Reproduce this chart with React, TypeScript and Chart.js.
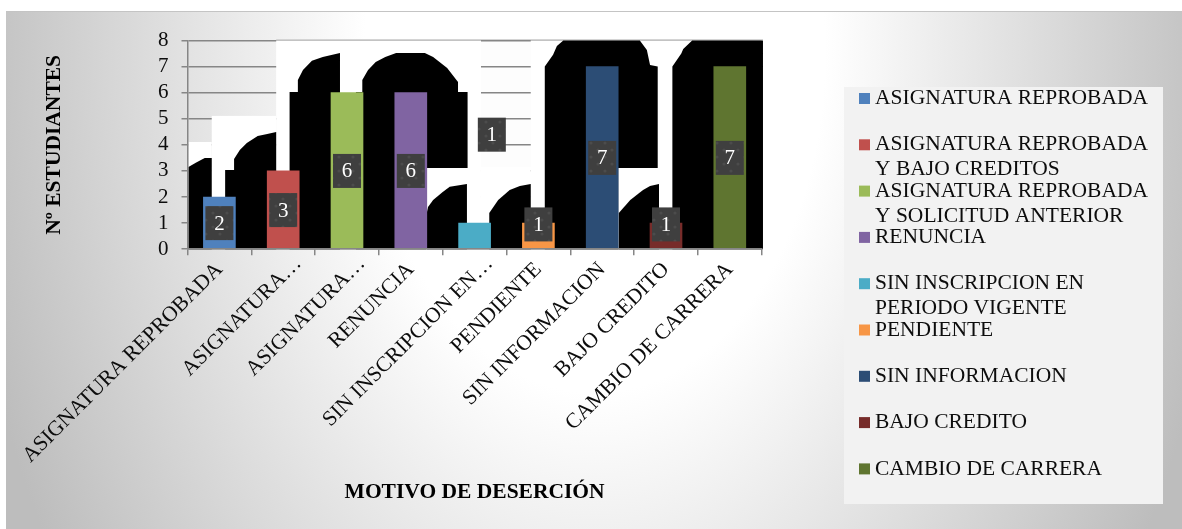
import React, { useEffect, useRef } from "react";
import { Chart, registerables } from "chart.js";

Chart.register(...registerables);

const SERIF = '"Liberation Serif", "Times New Roman", serif';

const axisCategories = [
  "ASIGNATURA REPROBADA",
  "ASIGNATURA…",
  "ASIGNATURA…",
  "RENUNCIA",
  "SIN INSCRIPCION EN…",
  "PENDIENTE",
  "SIN INFORMACION",
  "BAJO CREDITO",
  "CAMBIO DE CARRERA",
];
const legendLabels: string[][] = [
  ["ASIGNATURA REPROBADA"],
  ["ASIGNATURA REPROBADA", "Y BAJO CREDITOS"],
  ["ASIGNATURA REPROBADA", "Y SOLICITUD ANTERIOR"],
  ["RENUNCIA"],
  ["SIN INSCRIPCION EN", "PERIODO VIGENTE"],
  ["PENDIENTE"],
  ["SIN INFORMACION"],
  ["BAJO CREDITO"],
  ["CAMBIO DE CARRERA"],
];
const students = [2, 3, 6, 6, 1, 1, 7, 1, 7];
const barColors = ["#4F81BD", "#C0504D", "#9BBB59", "#8064A2", "#4BACC6", "#F79646", "#2C4D75", "#772C2A", "#5F7530"];
// data-label anchors, in axis units [category, value]
const labelAnchors: [number, number][] = [
  [0, 1], [1, 1.5], [2, 3], [3, 3], [4.27, 4.39], [5, 0.95], [6, 3.5], [7, 0.95], [8, 3.5],
];
// truncated axis labels sit a little further right in the source
const truncatedLabelIndexes = [1, 2, 4];

// artefact regions of the source picture, in axis units [category, value]
const blackShapes: [number, number][][] = [
  [[-0.485, 0], [-0.485, 3.15], [-0.37, 3.31], [-0.23, 3.5], [-0.12, 3.5], [-0.12, 0]],
  [[0.09, 0], [0.09, 3.04], [0.23, 3.04], [0.23, 3.46], [0.32, 3.8], [0.43, 4.07], [0.6, 4.34], [0.75, 4.42], [0.89, 4.49], [0.89, 0]],
  [[1.1, 0], [1.1, 6.03], [1.23, 6.03], [1.23, 6.49], [1.31, 6.87], [1.45, 7.22], [1.62, 7.37], [1.89, 7.52], [1.89, 0]],
  [[2.14, 0], [2.14, 6.03], [2.24, 6.03], [2.24, 6.49], [2.33, 6.87], [2.45, 7.18], [2.6, 7.37], [2.77, 7.52], [3.22, 7.52], [3.35, 7.37], [3.57, 6.95], [3.74, 6.41], [3.74, 6.03], [3.89, 6.03], [3.89, 3.11], [3.24, 3.11], [3.24, 0]],
  [[3.25, 0], [3.25, 1.39], [3.27, 1.62], [3.35, 1.89], [3.5, 2.19], [3.61, 2.39], [3.88, 2.5], [3.88, 0]],
  [[4.23, 0], [4.23, 1.39], [4.37, 1.89], [4.55, 2.27], [4.71, 2.42], [4.88, 2.5], [4.88, 0]],
  [[5.1, 0], [5.1, 7], [5.23, 7.45], [5.29, 7.79], [5.39, 8], [6.59, 8], [6.7, 7.64], [6.75, 7.06], [6.87, 7], [6.87, 3.11], [6.25, 3.11], [6.25, 0]],
  [[6.26, 0], [6.26, 1.39], [6.44, 1.89], [6.64, 2.27], [6.75, 2.42], [6.89, 2.5], [6.89, 0]],
  [[7.1, 0], [7.1, 7], [7.24, 7.5], [7.27, 7.67], [7.41, 8], [8.52, 8], [8.52, 0]],
];
// [category from, category to, value from, value to]
const whitePatches: [number, number, number, number][] = [
  [0.89, 4.1, 0, 8],
  [4.1, 4.88, 0, 3.15],
  [4.88, 8.52, 0, 8],
  [-0.12, 0.89, 0, 5.11],
  [-0.485, -0.12, 0, 4.11],
];
const paleBand: [number, number, number, number] = [4.1, 4.88, 3.15, 8];

function makeDotPattern(ctx: CanvasRenderingContext2D) {
  const tile = document.createElement("canvas");
  tile.width = 14;
  tile.height = 14;
  const t = tile.getContext("2d")!;
  t.fillStyle = "#3f3f3f";
  t.fillRect(0, 0, 14, 14);
  t.fillStyle = "#4c4c4c";
  for (const [x, y] of [[3, 3], [10, 10]]) {
    t.beginPath();
    t.arc(x, y, 1.6, 0, Math.PI * 2);
    t.fill();
  }
  return ctx.createPattern(tile, "repeat")!;
}

const backdropPlugin = {
  id: "backdrop",
  afterLayout(chart: any) {
    const xs = chart.scales.x;
    const items = xs.getLabelItems(chart.chartArea);
    for (const i of truncatedLabelIndexes) {
      const t = items[i].options.translation;
      items[i].options.translation = [t[0] + 15, t[1] - 6];
    }
  },
  beforeDraw(chart: any) {
    const { ctx, width, height } = chart;
    ctx.save();
    ctx.fillStyle = "#ffffff";
    ctx.fillRect(0, 0, width, height);
    ctx.save();
    ctx.beginPath();
    ctx.rect(6, 11, width - 6, height - 11);
    ctx.clip();
    ctx.translate(595, 50);
    ctx.scale(1, 1.49);
    const g = ctx.createRadialGradient(0, 0, 230, 0, 0, 640);
    g.addColorStop(0, "#ffffff");
    g.addColorStop(1, "#bdbdbd");
    ctx.fillStyle = g;
    ctx.fillRect(-800, -200, 1700, 700);
    ctx.restore();
    ctx.strokeStyle = "#c4c4c4";
    ctx.lineWidth = 1;
    ctx.beginPath();
    ctx.moveTo(6, 11.5);
    ctx.lineTo(width, 11.5);
    ctx.stroke();
    const xs = chart.scales.x;
    const ys = chart.scales.y;
    if (xs && ys) {
      const [a, b, c, d] = paleBand;
      ctx.fillStyle = "#fdfdfd";
      ctx.fillRect(xs.getPixelForValue(a), ys.getPixelForValue(d), xs.getPixelForValue(b) - xs.getPixelForValue(a), ys.getPixelForValue(c) - ys.getPixelForValue(d));
    }
    // legend panel
    ctx.fillStyle = "#f2f2f2";
    ctx.fillRect(844, 87, 319, 417);
    ctx.restore();
  },
  beforeDatasetsDraw(chart: any) {
    const { ctx } = chart;
    const xs = chart.scales.x;
    const ys = chart.scales.y;
    ctx.save();
    ctx.fillStyle = "#ffffff";
    for (const [a, b, c, d] of whitePatches) {
      const x0 = xs.getPixelForValue(a);
      const x1 = xs.getPixelForValue(b);
      const y0 = ys.getPixelForValue(d);
      const y1 = ys.getPixelForValue(c);
      ctx.fillRect(x0, y0, x1 - x0, y1 - y0);
    }
    ctx.strokeStyle = "#d4d4d4";
    ctx.lineWidth = 1;
    ctx.beginPath();
    ctx.moveTo(xs.getPixelForValue(0.89), ys.getPixelForValue(8) - 1);
    ctx.lineTo(xs.getPixelForValue(8.52), ys.getPixelForValue(8) - 1);
    ctx.stroke();
    ctx.fillStyle = "#000000";
    for (const shape of blackShapes) {
      ctx.beginPath();
      shape.forEach(([cx, v], i) => {
        const px = xs.getPixelForValue(cx);
        const py = ys.getPixelForValue(v);
        if (i) ctx.lineTo(px, py);
        else ctx.moveTo(px, py);
      });
      ctx.closePath();
      ctx.fill();
    }
    ctx.restore();
  },
  afterDatasetsDraw(chart: any) {
    const { ctx } = chart;
    const xs = chart.scales.x;
    const ys = chart.scales.y;
    ctx.save();
    const pattern = makeDotPattern(ctx);
    ctx.textAlign = "center";
    ctx.textBaseline = "middle";
    ctx.font = `21px ${SERIF}`;
    students.forEach((v, i) => {
      const [cx, val] = labelAnchors[i];
      const px = xs.getPixelForValue(cx);
      const py = ys.getPixelForValue(val);
      ctx.fillStyle = pattern;
      ctx.fillRect(px - 14, py - 17, 28, 34);
      ctx.fillStyle = "#ffffff";
      ctx.fillText(String(v), px, py + 1);
    });
    // legend
    ctx.textAlign = "left";
    ctx.font = `21.5px ${SERIF}`;
    legendLabels.forEach((lines, i) => {
      const cy = 98.5 + i * 46.3;
      ctx.fillStyle = barColors[i];
      ctx.fillRect(859, cy - 5.5, 11, 11);
      ctx.fillStyle = "#0d0d0d";
      lines.forEach((line, j) => ctx.fillText(line, 875, cy + j * 25));
    });
    ctx.restore();
  },
};

export default function App() {
  const ref = useRef<HTMLCanvasElement>(null);
  useEffect(() => {
    document.body.style.margin = "0";
    const chart = new Chart(ref.current!, {
      type: "bar",
      data: {
        labels: axisCategories,
        datasets: [{ label: "N° ESTUDIANTES", data: students, backgroundColor: barColors, barThickness: 32 }],
      },
      plugins: [backdropPlugin],
      options: {
        animation: false,
        responsive: false,
        layout: { padding: { left: 38, top: 40.5, right: 420.3, bottom: 20 } },
        plugins: { legend: { display: false }, tooltip: { enabled: false } },
        scales: {
          x: {
            afterFit(s: any) {
              s.height = 259.8;
              s.paddingLeft = 0;
              s.paddingRight = 0;
            },
            grid: { display: true, drawOnChartArea: false, drawTicks: true, tickLength: 6, color: "#868686", lineWidth: 1.5 },
            border: { color: "#868686", width: 1.5, z: 1 },
            ticks: {
              autoSkip: false,
              minRotation: 45,
              maxRotation: 45,
              color: "#0d0d0d",
              padding: 2,
              font: { family: SERIF, size: 21.5 },
            },
            title: { display: true, text: "MOTIVO DE DESERCIÓN", color: "#000000", padding: 4, font: { family: SERIF, size: 21.5, weight: "bold" } },
          },
          y: {
            min: 0,
            max: 8,
            afterFit(s: any) {
              s.width = 149.5;
            },
            grid: { display: true, drawTicks: true, tickLength: 6, color: "#868686", lineWidth: 1.5 },
            border: { color: "#868686", width: 1.5, z: 1 },
            ticks: { stepSize: 1, autoSkip: false, color: "#0d0d0d", padding: 13, font: { family: SERIF, size: 21 } },
            title: { display: true, text: "Nº ESTUDIANTES", color: "#000000", padding: 4, font: { family: SERIF, size: 21.5, weight: "bold" } },
          },
        },
      } as any,
    });
    return () => chart.destroy();
  }, []);
  return <canvas ref={ref} width={1182} height={529} style={{ display: "block" }} />;
}
